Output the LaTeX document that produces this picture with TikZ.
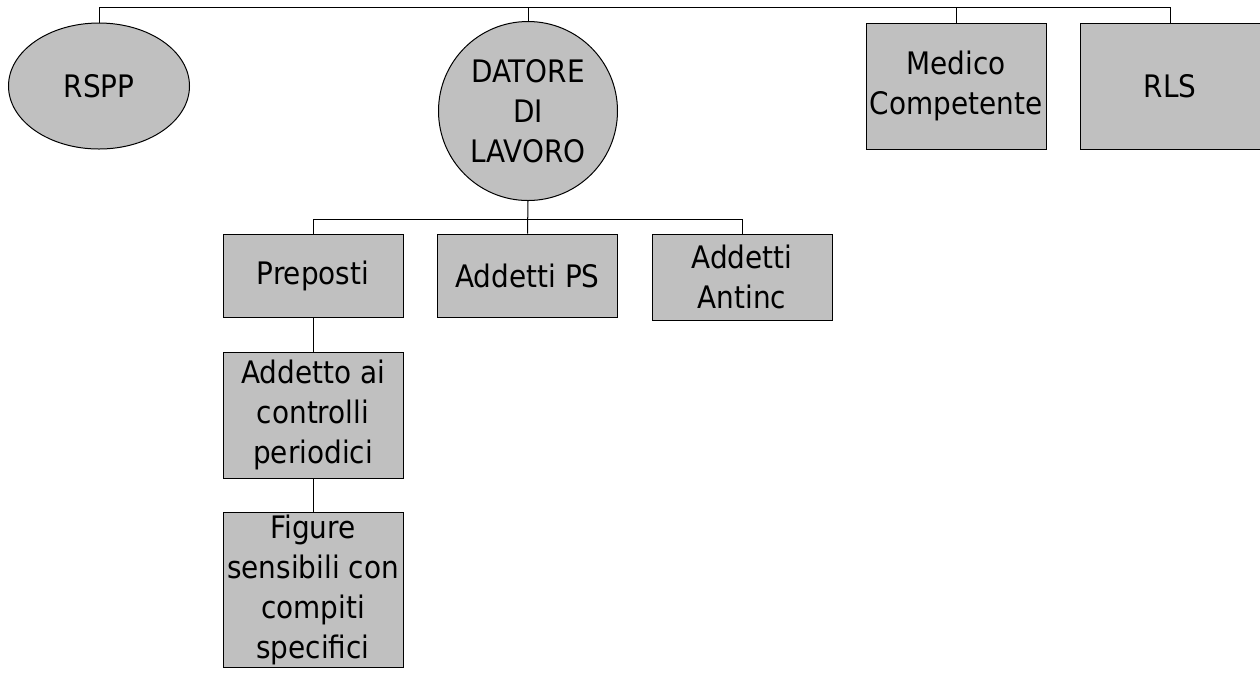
\documentclass[tikz,border=0pt]{standalone}
\usepackage{fontspec}
\setmainfont{DejaVu Sans Condensed}
\usetikzlibrary{shapes.geometric}
\definecolor{boxgray}{HTML}{C0C0C0}
\tikzset{ob/.append style={draw,fill=boxgray,line width=0.5pt,inner sep=0pt,align=center,font=\fontsize{15.5}{20}\selectfont}}
\tikzset{bx/.style={ob,rectangle,minimum width=90pt}}

\begin{document}
\begin{tikzpicture}[x=0.5pt,y=-0.5pt,line width=0.5pt]
            \useasboundingbox (0,0) rectangle (1260,677);
            % first row
            \node[ob,ellipse,minimum width=90.5pt,minimum height=63pt] (rspp) at (99,86) {RSPP};
            \node[ob,circle,minimum size=89.5pt] (dl) at (528,111) {DATORE\\DI\\LAVORO};
            \node[bx,minimum height=63pt] (mc) at (956,86) {Medico\\Competente};
            \node[bx,minimum height=63pt] (rls) at (1170,86) {RLS};
            % second row
            \node[bx,minimum height=41.5pt] (prep) at (313,275.5) {Preposti};
            \node[bx,minimum height=41.5pt] (aps) at (527.5,275.5) {Addetti PS};
            \node[bx,minimum height=43pt] (aai) at (742,277) {Addetti\\Antinc};
            \node[bx,minimum height=63pt] (acp) at (313,415) {Addetto ai\\controlli\\periodici};
            \node[bx,minimum height=77.5pt] (fs) at (313,589.5) {Figure\\sensibili con\\compiti\\specifici};
            \coordinate (top) at (0,7);
            \coordinate (mid) at (0,219);
            \draw (rspp.north) -- (rspp.north |- top) -| (rls.north);
            \draw (dl.north) -- (dl.north |- top);
            \draw (mc.north) -- (mc.north |- top);
            \draw (dl.south) -- (aps.north);
            \draw (prep.north) |- (aai.north |- mid) -- (aai.north);
            \draw (prep) -- (acp);
            \draw (acp) -- (fs);
        \end{tikzpicture}
\end{document}
